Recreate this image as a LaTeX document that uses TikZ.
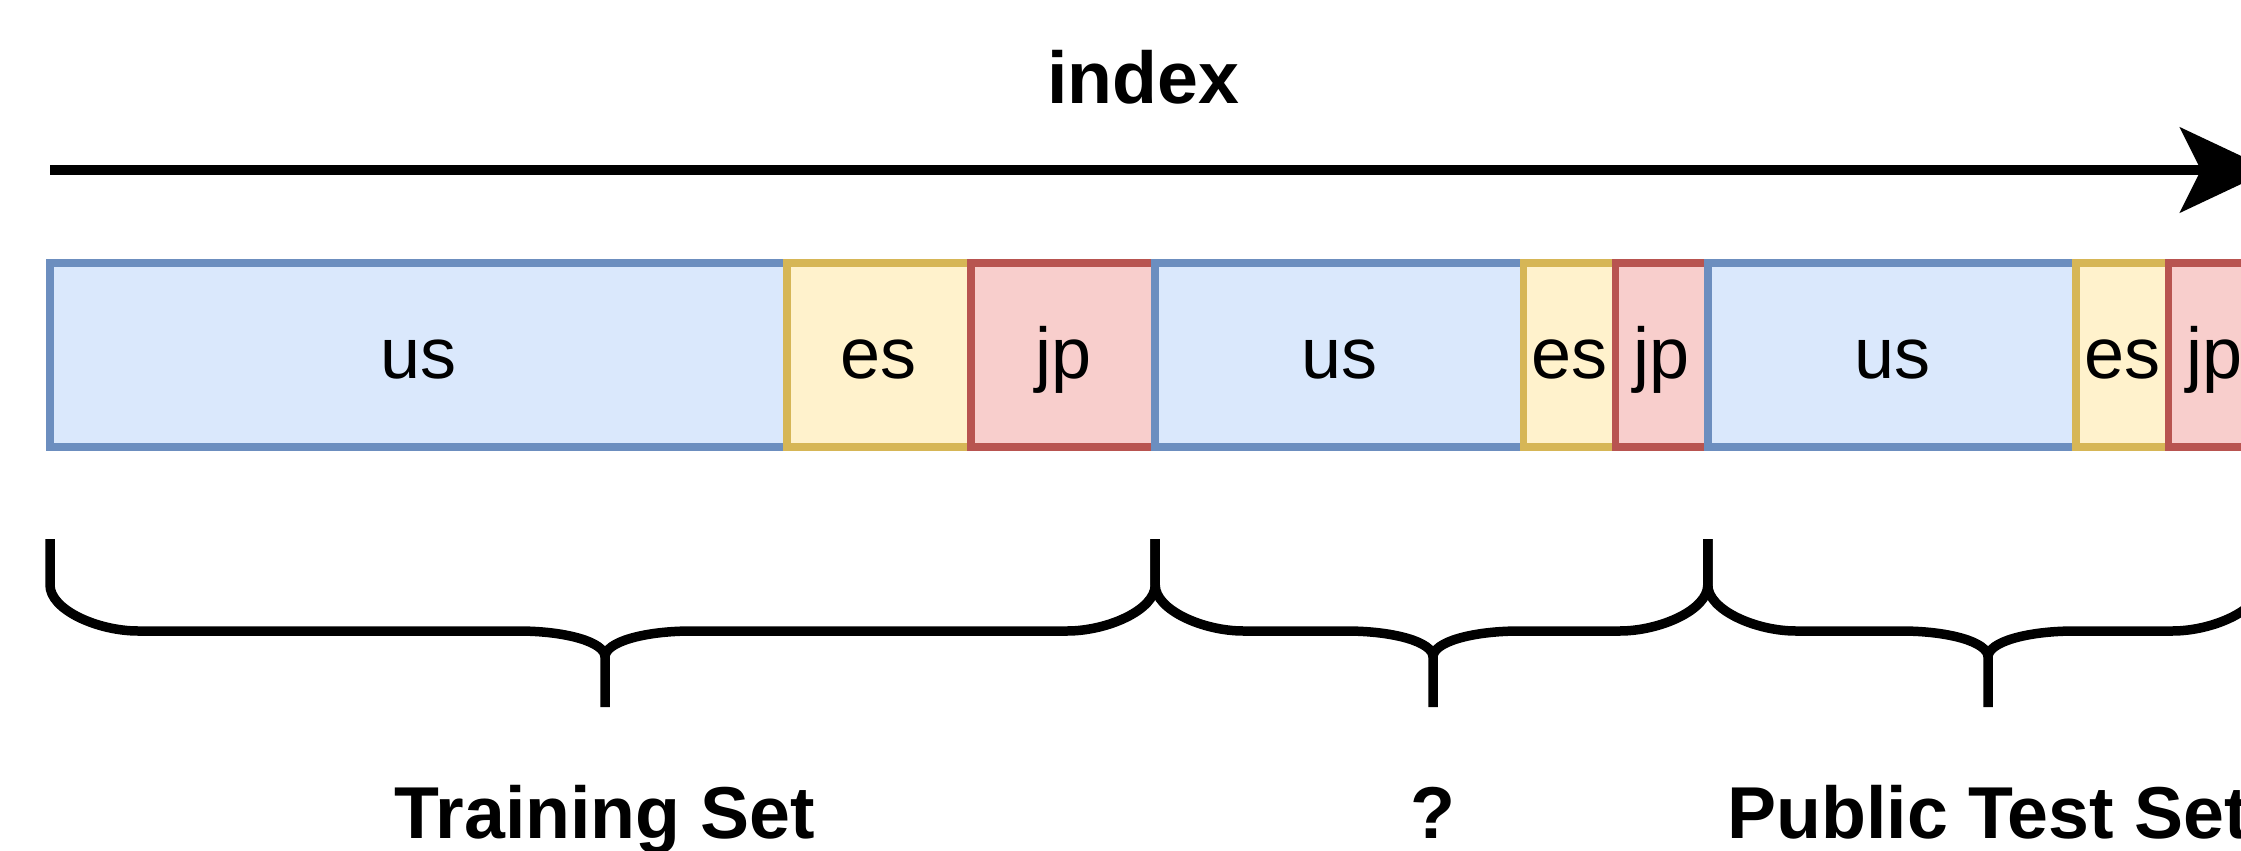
\documentclass[tikz,border=0pt]{standalone}
\usepackage{fontspec}
\setmainfont{Liberation Sans}
\usetikzlibrary{arrows.meta}
\definecolor{bluefill}{HTML}{DAE8FC}\definecolor{bluedraw}{HTML}{6C8EBF}
\definecolor{yelfill}{HTML}{FFF2CC}\definecolor{yeldraw}{HTML}{D6B656}
\definecolor{redfill}{HTML}{F8CECC}\definecolor{reddraw}{HTML}{B85450}
\newcommand\mybrace[3]{%
  \draw[bracestyle] (#1,539) -- (#1,585) .. controls (#1,610) and ({#1+48},631) .. ({#1+88},631)
    -- ({#3-87},631) .. controls ({#3-39},631) and (#3,642) .. (#3,657) -- (#3,707);
  \draw[bracestyle] (#2,539) -- (#2,585) .. controls (#2,610) and ({#2-48},631) .. ({#2-88},631)
    -- ({#3+87},631) .. controls ({#3+39},631) and (#3,642) .. (#3,657);
}
\begin{document}
\begin{tikzpicture}[x=1pt,y=-1pt,
  seg/.style={rectangle, line width=7.5pt, inner sep=0pt, outer sep=0pt, minimum height=184pt, anchor=north west},
  usbox/.style={seg, fill=bluefill, draw=bluedraw},
  esbox/.style={seg, fill=yelfill, draw=yeldraw},
  jpbox/.style={seg, fill=redfill, draw=reddraw},
  lbl/.style={inner sep=0pt, anchor=base, font=\fontsize{72}{80}\selectfont},
  blbl/.style={inner sep=0pt, anchor=base, font=\fontsize{73.5}{80}\selectfont\bfseries},
  bracestyle/.style={line width=9.5pt, black}]
\useasboundingbox (0,0) rectangle (2241,851);
\fill[white] (0,0) rectangle (2241,851);
\clip (0,0) rectangle (2241,851);
% arrow
\node[blbl] (index) at (1143,103) {index};
\coordinate (arrowstart) at (50,170);
\coordinate (arrowend) at (2271,170);
\draw[line width=9.3pt, -{Stealth[length=91pt, width=85pt, inset=21pt]}] (arrowstart) -- (arrowend);
% segments
\node[usbox, minimum width=736.8pt] (us1) at (50,263) {};
\node[esbox, minimum width=184.2pt] (es1) at (786.8,263) {};
\node[jpbox, minimum width=184.2pt] (jp1) at (971,263) {};
\node[usbox, minimum width=368.4pt] (us2) at (1155.2,263) {};
\node[esbox, minimum width=92.1pt] (es2) at (1523.6,263) {};
\node[jpbox, minimum width=92.1pt] (jp2) at (1615.7,263) {};
\node[usbox, minimum width=368.4pt] (us3) at (1707.8,263) {};
\node[esbox, minimum width=92.1pt] (es3) at (2076.2,263) {};
\node[jpbox, minimum width=92.1pt] (jp3) at (2168.3,263) {};
\foreach \n/\t in {us1/us,es1/es,jp1/jp,us2/us,es2/es,jp2/jp,us3/us,es3/es,jp3/jp}{
  \node[lbl] (t\n) at (\n.center |- 0,378) {\t};
}
% braces
\mybrace{50}{1155.2}{605}
\mybrace{1155.2}{1707.8}{1433}
\mybrace{1707.8}{2260.4}{1988}
\node[blbl] (train) at (605,838) {Training Set};
\node[blbl] (unknown) at (1433,838) {?};
\node[blbl] (public) at (1988,838) {Public Test Set};
\end{tikzpicture}
\end{document}
